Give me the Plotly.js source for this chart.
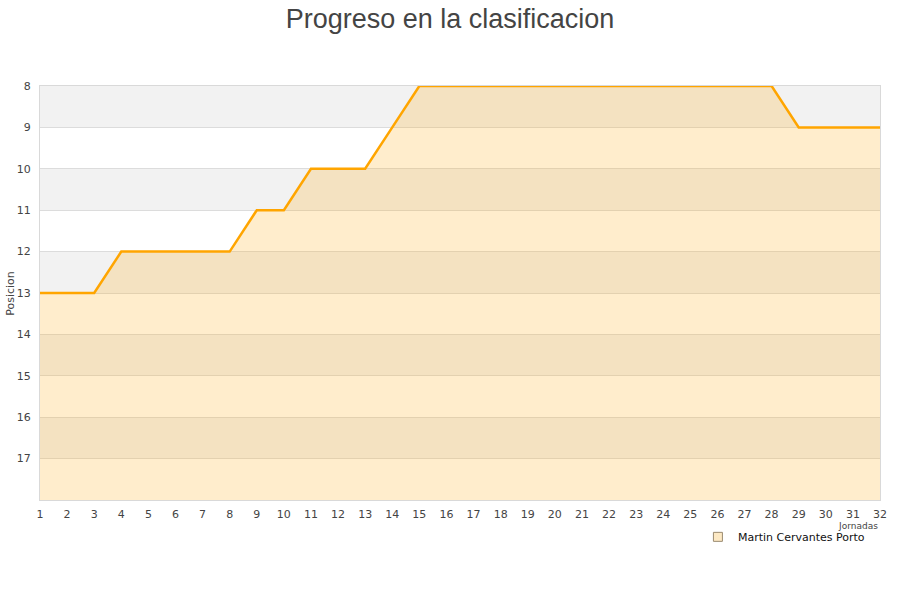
<!DOCTYPE html>
<html>
<head>
<meta charset="utf-8">
<script src="https://cdn.plot.ly/plotly-3.0.1.min.js"></script>
<style>html,body{margin:0;padding:0;background:#fff}#chart{width:900px;height:600px}</style>
</head>
<body>
<div id="chart"></div>
<script>
// Matchday numbers and league position after each one
const jornadas = [1,2,3,4,5,6,7,8,9,10,11,12,13,14,15,16,17,18,19,20,21,22,23,24,25,26,27,28,29,30,31,32];
const posiciones = [13,13,13,12,12,12,12,12,11,11,10,10,10,9,8,8,8,8,8,8,8,8,8,8,8,8,8,8,9,9,9,9];
const equipo = "Martin Cervantes Porto";
const yTicks = [8,9,10,11,12,13,14,15,16,17];
const yMin = 8, yMax = 18;

// alternating grey bands on every other position row
const bands = yTicks.filter((v, i) => i % 2 === 0).map(v => ({
  type: 'rect', xref: 'paper', yref: 'y', x0: 0, x1: 1, y0: v, y1: v + 1,
  fillcolor: '#f2f2f2', line: {width: 0}, layer: 'below'
}));

// invisible floor at the last position so the area fills downwards
const baseline = {
  x: jornadas, y: jornadas.map(() => yMax), mode: 'lines',
  line: {width: 0, color: 'rgba(0,0,0,0)'}, showlegend: false, hoverinfo: 'skip'
};
const serie = {
  x: jornadas, y: posiciones, mode: 'lines', fill: 'tonexty',
  fillcolor: 'rgba(255,165,0,0.2)',
  line: {color: '#ffa500', width: 2.5}, showlegend: false, name: equipo
};
// legend entry drawn as a small square swatch
const leyenda = {
  x: [null], y: [null], mode: 'markers', name: equipo,
  marker: {symbol: 'square', size: 9, color: '#fde9c4', line: {color: '#9a8a70', width: 1}}
};

const layout = {
  width: 900, height: 600,
  margin: {l: 40, r: 20, t: 86, b: 100},
  paper_bgcolor: '#ffffff', plot_bgcolor: '#ffffff',
  font: {family: 'DejaVu Sans, sans-serif', size: 11, color: '#444'},
  title: {text: 'Progreso en la clasificacion', x: 0.5, xanchor: 'center', y: 0.985, yanchor: 'top',
          font: {family: 'Liberation Sans, Arial, sans-serif', size: 27, color: '#444'}},
  xaxis: {
    range: [1, 32], tickmode: 'array', tickvals: jornadas, ticktext: jornadas.map(String),
    showgrid: false, zeroline: false, showline: true, mirror: true, linecolor: '#d9d9d9',
    ticks: '', ticklabelstandoff: 4, tickfont: {size: 11, color: '#444'}
  },
  yaxis: {
    range: [yMax, yMin], tickmode: 'array', tickvals: yTicks, ticktext: yTicks.map(String),
    showgrid: true, gridcolor: '#dcdcdc', zeroline: false, showline: true, mirror: true, linecolor: '#d9d9d9',
    ticks: '', ticklabelstandoff: 6, tickfont: {size: 11, color: '#444'}
  },
  shapes: bands,
  annotations: [
    {text: 'Posicion', xref: 'paper', yref: 'paper', x: -0.036, y: 0.5, xanchor: 'center', yanchor: 'middle',
     textangle: -90, showarrow: false, font: {size: 11, color: '#444'}},
    {text: 'Jornadas', xref: 'paper', yref: 'paper', x: 1.0, y: -0.046, xanchor: 'right', yanchor: 'top',
     showarrow: false, font: {size: 9, color: '#444'}}
  ],
  showlegend: true,
  legend: {
    orientation: 'h', x: 0.988, xanchor: 'right', y: -0.054, yanchor: 'top',
    bgcolor: 'rgba(255,255,255,0)', font: {size: 11, color: '#111'}
  }
};

Plotly.newPlot('chart', [baseline, serie, leyenda], layout, {displayModeBar: false, staticPlot: true});
</script>
</body>
</html>
